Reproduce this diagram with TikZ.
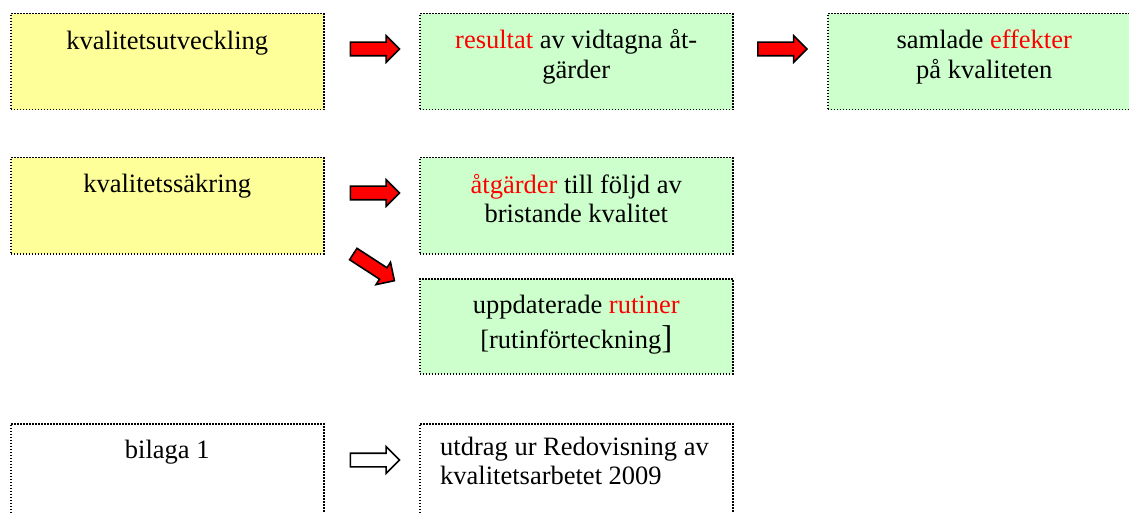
\documentclass[tikz,border=0pt]{standalone}
\usepackage{fontspec}
\setmainfont{Liberation Serif}
\usetikzlibrary{shapes.arrows,positioning}
\definecolor{boxyellow}{HTML}{FFFF99}
\definecolor{boxgreen}{HTML}{CCFFCC}
\definecolor{hl}{HTML}{FF0000}

\begin{document}
\begin{tikzpicture}[x=1pt,y=-1pt,
  box/.style={draw, line width=1.5pt, dash pattern=on 1.5pt off 1.5pt, anchor=north west,
    minimum width=313pt, minimum height=96pt, inner sep=0pt},
  txt/.style={anchor=base, align=center, inner sep=0pt, font=\fontsize{26.5}{29.5}\selectfont},
  blockarrow/.style={single arrow, draw, line width=1.6pt, fill=red, minimum height=49pt,
    inner xsep=0pt, inner ysep=6pt, single arrow head extend=6.5pt, single arrow tip angle=90}]
\useasboundingbox (0,0) rectangle (1129,513);
% row 1 (base anchor = last line)
\node[box, fill=boxyellow] (utv) at (10,13) {};
\node[txt] (utvT) at ([yshift=-37pt]utv.north) {kvalitetsutveckling};
\node[box, fill=boxgreen] (res) at (419,13) {};
\node[txt] (resT) at ([yshift=-65.5pt]res.north) {{\color{hl}resultat} av vidtagna åt-\\gärder};
\node[box, fill=boxgreen] (eff) at (827,13) {};
\node[txt] (effT) at ([yshift=-65.5pt]eff.north) {samlade {\color{hl}effekter}\\på kvaliteten};
\node[blockarrow] (a1) at (371.5,49) {};
\node[blockarrow] (a2) at (779,49) {};
% row 2
\node[box, fill=boxyellow] (sak) at (10,157) {};
\node[txt] (sakT) at ([yshift=-36pt]sak.north) {kvalitetssäkring};
\node[box, fill=boxgreen] (atg) at (419,157) {};
\node[txt] (atgT) at ([yshift=-65.5pt]atg.north) {{\color{hl}åtgärder} till följd av\\bristande kvalitet};
\node[box, fill=boxgreen, minimum height=95pt] (rut) at (419,278) {};
\node[txt] (rutT) at ([yshift=-70pt]rut.north) {uppdaterade {\color{hl}rutiner}\\[5.5pt][rutinförteckning{\fontsize{33}{33}\selectfont]}};
\node[blockarrow] (a3) at (371.5,193) {};
\node[blockarrow, rotate=-33] (a4) at (371,265.5) {};
% row 3
\node[box] (bil) at (10,423) {};
\node[txt] (bilT) at ([yshift=-35pt]bil.north) {bilaga 1};
\node[box] (utd) at (419,423) {};
\node[txt, anchor=base west, align=left] (utdT) at ([xshift=21pt,yshift=-61.5pt]utd.north west) {utdrag ur Redovisning av\\kvalitetsarbetet 2009};
\node[blockarrow, fill=white] (a5) at (371.5,460) {};
\end{tikzpicture}
\end{document}
